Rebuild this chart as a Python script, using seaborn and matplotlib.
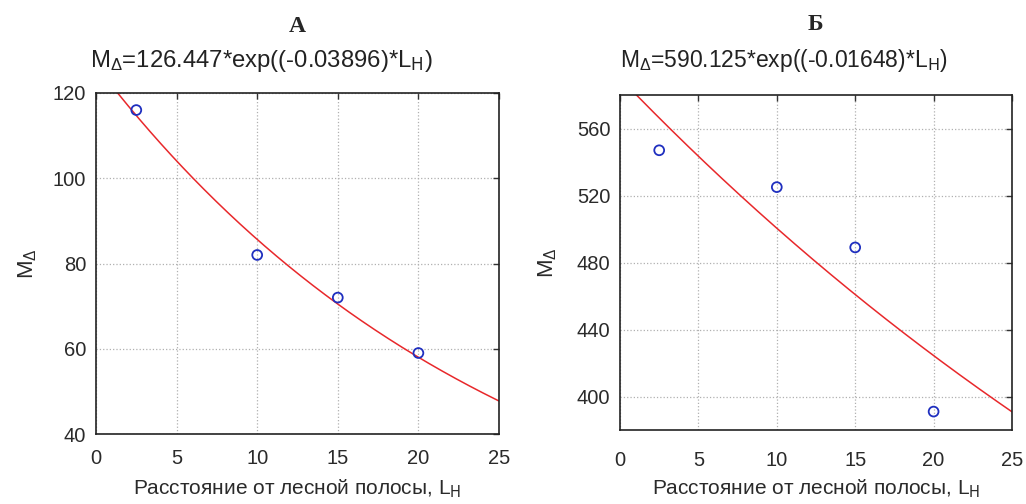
import numpy as np
import pandas as pd
import matplotlib
matplotlib.use("Agg")
import matplotlib.pyplot as plt
import seaborn as sns

# ---- data ----
panel_letters = ["A", "Б"]
x_points = [2.5, 10, 15, 20]
y_points_a = [116, 82, 72, 59]
y_points_b = [547, 525, 489, 391]
fit_coef_a = [126.447, -0.03896]
fit_coef_b = [590.125, -0.01648]
fit_labels = ["126.447", "-0.03896", "590.125", "-0.01648"]
x_ticks = [0, 5, 10, 15, 20, 25]
y_ticks_a = [40, 60, 80, 100, 120]
y_ticks_b = [400, 440, 480, 520, 560]
x_label = "Расстояние от лесной полосы, L$_\\mathrm{H}$"
y_label = "M$_\\Delta$"

sns.set_theme(style="white")
plt.rcParams["font.family"] = ["Liberation Sans", "DejaVu Sans"]
plt.rcParams["mathtext.default"] = "regular"

fig = plt.figure(figsize=(10.26, 5.04), dpi=100)
ax_a = fig.add_axes([96/1026, (504-434)/504, (499-96)/1026, (434-93)/504])
ax_b = fig.add_axes([620/1026, (504-430)/504, (1012-620)/1026, (430-95)/504])

panels = [
    (ax_a, y_points_a, fit_coef_a, (40, 120), y_ticks_a, 11, -0.127, -0.141),
    (ax_b, y_points_b, fit_coef_b, (380, 580), y_ticks_b, 15, -0.141, -0.156),
]

xs = np.linspace(0, 25, 300)
for ax, yp, coef, ylim, yt, xpad, xl_y, yl_x in panels:
    fit_df = pd.DataFrame({"x": xs, "y": coef[0] * np.exp(coef[1] * xs)})
    pts_df = pd.DataFrame({"x": x_points, "y": yp})
    sns.lineplot(data=fit_df, x="x", y="y", ax=ax, color="#e8282b", linewidth=1.1)
    sns.scatterplot(data=pts_df, x="x", y="y", ax=ax, marker="o", s=50,
                    facecolor="none", edgecolor="#1f2fbf", linewidth=1.3, zorder=5)
    ax.set_xlim(0, 25)
    ax.set_ylim(*ylim)
    ax.set_xticks(x_ticks)
    ax.set_yticks(yt)
    ax.grid(True, color="#b0b0b0", linestyle=":", linewidth=0.9)
    for sp in ax.spines.values():
        sp.set_color("#222222")
        sp.set_linewidth(1.2)
    ax.tick_params(axis="both", direction="in", length=4, width=1, color="#333333",
                   labelsize=14.5, labelcolor="#2a2a2a", top=True, right=True)
    ax.tick_params(axis="x", pad=xpad)
    ax.tick_params(axis="y", pad=7)
    ax.set_xlabel(x_label, fontsize=15, color="#2a2a2a")
    ax.xaxis.set_label_coords(0.5, xl_y)
    ax.set_ylabel(y_label, fontsize=16, color="#2a2a2a")
    ax.yaxis.set_label_coords(yl_x, 0.5)

fig.text(297/1026, 1 - 26/504, panel_letters[0], family="Liberation Serif",
         fontweight="bold", fontsize=17, ha="center", va="center")
fig.text(815/1026, 1 - 24/504, panel_letters[1], family="Liberation Serif",
         fontweight="bold", fontsize=17, ha="center", va="center")
fig.text(90/1026, 1 - 61/504,
         "M$_\\Delta$=" + fit_labels[0] + "*exp((" + fit_labels[1] + ")*L$_\\mathrm{H}$)",
         fontsize=17.2, ha="left", va="center", color="#222222")
fig.text(620/1026, 1 - 61/504,
         "M$_\\Delta$=" + fit_labels[2] + "*exp((" + fit_labels[3] + ")*L$_\\mathrm{H}$)",
         fontsize=16.5, ha="left", va="center", color="#222222")

fig.savefig("out.png", dpi=100)
